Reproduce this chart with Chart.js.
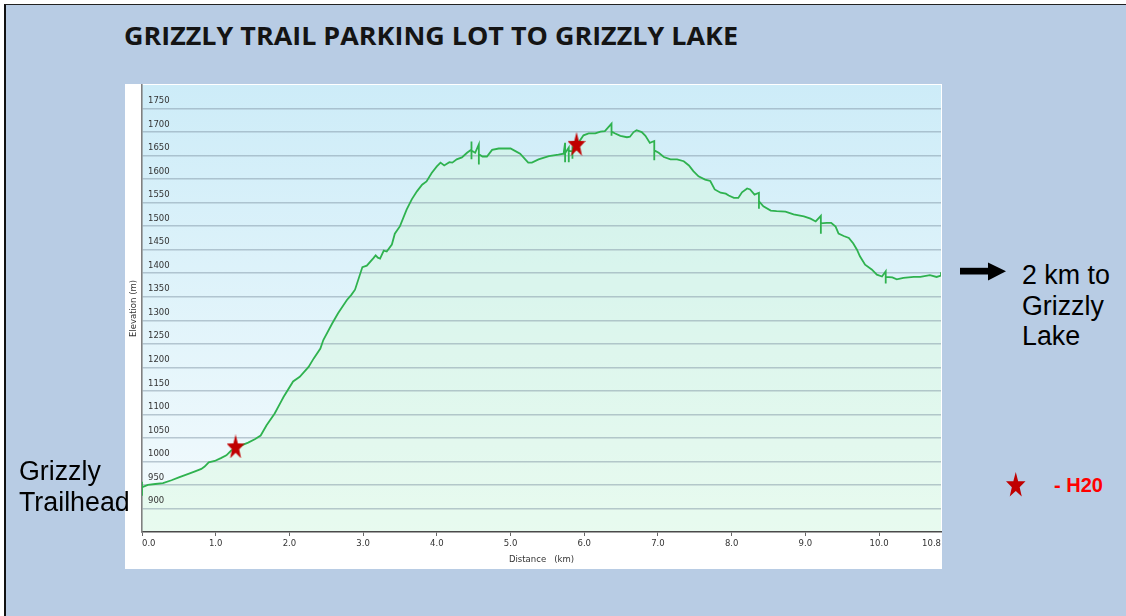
<!DOCTYPE html>
<html>
<head>
<meta charset="utf-8">
<script src="https://cdn.jsdelivr.net/npm/chart.js@4.4.1/dist/chart.umd.min.js"></script>
<style>
  html, body { margin:0; padding:0; background:#ffffff; width:1126px; height:616px; overflow:hidden; position:relative; font-family:"Liberation Sans", Arial, sans-serif; }
  #frame { position:absolute; left:4px; top:4px; width:1200px; height:700px; background:#b8cce4; border-left:2px solid #111; border-top:1px solid #222; }
  #title { position:absolute; left:124px; top:23px; font-family:"Open Sans", sans-serif; font-weight:700; font-size:25px; line-height:25px; color:#141414; white-space:nowrap; transform-origin:0 0; }
  #panel { position:absolute; left:125px; top:84px; width:817px; height:485px; background:#ffffff; }
  #plotbg { position:absolute; left:17px; top:1px; width:799px; height:447px; background:linear-gradient(to bottom, #cdecf8 0%, #f4fbfd 100%); }
  #chart { position:relative; }
  .note { position:absolute; font-family:"Liberation Sans", Arial, sans-serif; font-size:26.8px; line-height:30.5px; color:#000; white-space:nowrap; }
  #h2o { position:absolute; left:1054px; top:476px; font-family:"Liberation Sans", Arial, sans-serif; font-weight:700; font-size:20px; line-height:19px; color:#ff0000; white-space:nowrap; }
  svg { position:absolute; overflow:visible; }
</style>
</head>
<body>
<div id="frame"></div>
<div id="title">GRIZZLY TRAIL PARKING LOT TO GRIZZLY LAKE</div>
<div id="panel"><div id="plotbg"></div><canvas id="chart"></canvas></div>
<div class="note" style="left:19px; top:456px;">Grizzly<br>Trailhead</div>
<div class="note" style="left:1022px; top:260px;">2 km to<br>Grizzly<br>Lake</div>
<svg style="left:958px; top:260px;" width="50" height="24">
  <rect x="2" y="7.8" width="30" height="6.7" fill="#000"/>
  <polygon points="30,2.5 48,11.2 30,20.5" fill="#000"/>
</svg>
<svg id="legendStar" style="left:1005.5px; top:472px;" width="19.5" height="24.5"></svg>
<div id="h2o">- H20</div>

<script>
// ---------------- DATA ----------------
const distanceKm = [
  0.00, 0.00, 0.00, 0.08, 0.18, 0.285, 0.40, 0.50, 0.62, 0.72, 0.805, 0.85, 0.905, 0.987,
  1.07, 1.145, 1.21, 1.27, 1.35, 1.44, 1.53, 1.61, 1.69, 1.80, 1.89, 1.92,
  2.05, 2.14, 2.26, 2.33, 2.42, 2.46, 2.58, 2.66, 2.78, 2.84, 2.89, 2.99,
  3.05, 3.14, 3.17, 3.20, 3.23, 3.28, 3.32, 3.39, 3.43, 3.50, 3.59, 3.66, 3.73, 3.80, 3.86, 3.93,
  4.00, 4.05, 4.10, 4.17, 4.21, 4.27, 4.34, 4.41, 4.47, 4.47, 4.47, 4.47, 4.52, 4.57, 4.57, 4.57,
  4.62, 4.68, 4.75, 4.84, 5.00, 5.06, 5.13, 5.20, 5.24, 5.29, 5.38, 5.52, 5.65, 5.72,
  5.74, 5.74, 5.74, 5.79, 5.79, 5.79, 5.84, 5.84, 5.84, 5.84, 5.92, 5.99,
  6.06, 6.15, 6.22, 6.28, 6.37, 6.37, 6.37, 6.42, 6.49, 6.58, 6.62, 6.67, 6.71, 6.78, 6.83, 6.89,
  6.95, 6.95, 6.95, 7.01, 7.08, 7.17, 7.26, 7.35, 7.42, 7.48, 7.55, 7.64, 7.71, 7.77, 7.85, 7.92, 7.96,
  8.03, 8.09, 8.14, 8.21, 8.25, 8.31, 8.37, 8.37, 8.37, 8.43, 8.53, 8.61, 8.73, 8.84, 8.98,
  9.07, 9.14, 9.21, 9.21, 9.21, 9.29, 9.35, 9.41, 9.45, 9.52, 9.59, 9.65, 9.70, 9.74, 9.81, 9.90, 9.97,
  10.04, 10.09, 10.09, 10.09, 10.18, 10.24, 10.33, 10.47, 10.56, 10.69, 10.78, 10.84, 10.84
];
const elevationM = [
  927, 957, 945, 950, 952, 954, 960, 966, 973, 979, 984, 989, 998, 1001,
  1007, 1013, 1023, 1028, 1034, 1040, 1047, 1055, 1077, 1102, 1128, 1137,
  1170, 1180, 1201, 1219, 1240, 1258, 1293, 1315, 1343, 1354, 1365, 1413,
  1416, 1432, 1438, 1433, 1431, 1448, 1446, 1461, 1484, 1500, 1535, 1557, 1574, 1588, 1595, 1613,
  1627, 1635, 1629, 1636, 1635, 1642, 1646, 1656, 1663, 1680, 1642, 1661, 1656, 1674, 1631, 1653,
  1648, 1648, 1662, 1665, 1665, 1660, 1654, 1642, 1635, 1635, 1642, 1649, 1652, 1654,
  1677, 1636, 1655, 1667, 1636, 1659, 1660, 1670, 1643, 1662, 1677, 1693,
  1697, 1697, 1701, 1702, 1718, 1692, 1701, 1697, 1692, 1689, 1690, 1700, 1704, 1700, 1692, 1677,
  1681, 1640, 1661, 1656, 1647, 1642, 1642, 1638, 1629, 1617, 1606, 1599, 1596, 1578, 1571, 1569, 1565,
  1560, 1560, 1572, 1580, 1578, 1567, 1571, 1537, 1553, 1542, 1533, 1532, 1531, 1525, 1521,
  1516, 1510, 1522, 1484, 1506, 1507, 1507, 1499, 1484, 1479, 1475, 1463, 1450, 1436, 1418, 1408, 1397,
  1393, 1404, 1378, 1392, 1391, 1387, 1390, 1392, 1392, 1396, 1392, 1395, 1402
];
// water (H2O) sources
const waterKm = [1.27, 5.895];
const waterM = [1032, 1675];
// axis ticks
const yTickValues = [900, 950, 1000, 1050, 1100, 1150, 1200, 1250, 1300, 1350, 1400, 1450, 1500, 1550, 1600, 1650, 1700, 1750];
const xTickValues = [0, 1, 2, 3, 4, 5, 6, 7, 8, 9, 10, 10.84];
const xTickLabels = ['0.0', '1.0', '2.0', '3.0', '4.0', '5.0', '6.0', '7.0', '8.0', '9.0', '10.0', '10.8'];

// ---------------- STAR SYMBOL ----------------
function starPoints(w, h) {
  const sx = (w / 2) / Math.sin(2 * Math.PI / 5);
  const sy = h / (1 + Math.cos(Math.PI / 5));
  const pts = [];
  for (let i = 0; i < 10; i++) {
    const r = i % 2 === 0 ? 1 : 0.4;
    const a = -Math.PI / 2 + i * Math.PI / 5;
    pts.push([w / 2 + r * Math.cos(a) * sx, (r * Math.sin(a) + 1) * sy]);
  }
  return pts;
}
function makeStarCanvas(w, h, color) {
  const c = document.createElement('canvas');
  c.width = w; c.height = h;
  const g = c.getContext('2d');
  const pts = starPoints(w, h);
  g.beginPath();
  pts.forEach((p, i) => i ? g.lineTo(p[0], p[1]) : g.moveTo(p[0], p[1]));
  g.closePath();
  g.fillStyle = color;
  g.fill();
  return c;
}
const starImg = makeStarCanvas(18, 24, '#c00000');
(function () {
  const svg = document.getElementById('legendStar');
  const pts = starPoints(19.5, 24.5).map(p => p[0].toFixed(2) + ',' + p[1].toFixed(2)).join(' ');
  svg.innerHTML = '<polygon points="' + pts + '" fill="#c00000"/>';
})();

// fit title width
(function () {
  const t = document.getElementById('title');
  const w = t.getBoundingClientRect().width;
  t.style.transform = 'scaleX(' + (614 / w) + ')';
})();

// ---------------- CHART ----------------
const tickFont = { family: 'DejaVu Sans', size: 8.5 };

new Chart(document.getElementById('chart'), {
  type: 'line',
  data: {
    datasets: [
      {
        label: 'H20',
        data: waterKm.map((x, i) => ({ x: x, y: waterM[i] })),
        showLine: false,
        pointStyle: starImg,
        pointRadius: 10,
        fill: false,
        clip: false
      },
      {
        label: 'Elevation',
        data: distanceKm.map((x, i) => ({ x: x, y: elevationM[i] })),
        borderColor: '#2fb24f',
        borderWidth: 1.8,
        pointRadius: 0,
        tension: 0,
        fill: 'start',
        backgroundColor: 'rgba(212,250,214,0.36)'
      }
    ]
  },
  options: {
    responsive: true,
    maintainAspectRatio: false,
    animation: false,
    layout: { autoPadding: false, padding: { top: 1, right: 1, left: 0, bottom: 0 } },
    plugins: {
      legend: { display: false },
      tooltip: { enabled: false },
      filler: { drawTime: 'beforeDraw' }
    },
    scales: {
      x: {
        type: 'linear',
        min: 0,
        max: 10.84,
        afterBuildTicks: s => { s.ticks = xTickValues.map(v => ({ value: v })); },
        afterFit: s => { s.height = 37; s.paddingLeft = 0; s.paddingRight = 0; },
        ticks: {
          align: 'inner',
          padding: 3,
          color: '#333',
          font: tickFont,
          autoSkip: false,
          maxRotation: 0,
          callback: (v, i) => xTickLabels[i]
        },
        grid: {
          drawOnChartArea: false,
          drawTicks: true,
          tickLength: 4,
          tickColor: c => c.index === xTickValues.length - 1 ? 'rgba(0,0,0,0)' : '#666',
          color: '#666',
          lineWidth: 1
        },
        border: { display: true, color: '#4a4a4a', width: 1.6 },
        title: {
          display: true,
          text: 'Distance   (km)',
          color: '#333',
          font: { family: 'DejaVu Sans', size: 8.5 },
          padding: { top: 0, bottom: 4 }
        }
      },
      y: {
        type: 'linear',
        min: 850,
        max: 1800,
        afterBuildTicks: s => { s.ticks = yTickValues.map(v => ({ value: v })); },
        afterFit: s => { s.width = 17; s.paddingTop = 0; s.paddingBottom = 0; },
        ticks: {
          mirror: true,
          padding: 6,
          labelOffset: -7.5,
          color: '#333',
          font: tickFont,
          callback: v => String(v)
        },
        grid: { color: 'rgba(130,150,165,0.5)', lineWidth: 1.5, drawTicks: false },
        border: { display: true, color: '#808080', width: 1.6 },
        title: {
          display: true,
          text: 'Elevation (m)',
          color: '#333',
          font: { family: 'DejaVu Sans', size: 8.5 },
          padding: { top: 4, bottom: 0 }
        }
      }
    }
  }
});
</script>
</body>
</html>
